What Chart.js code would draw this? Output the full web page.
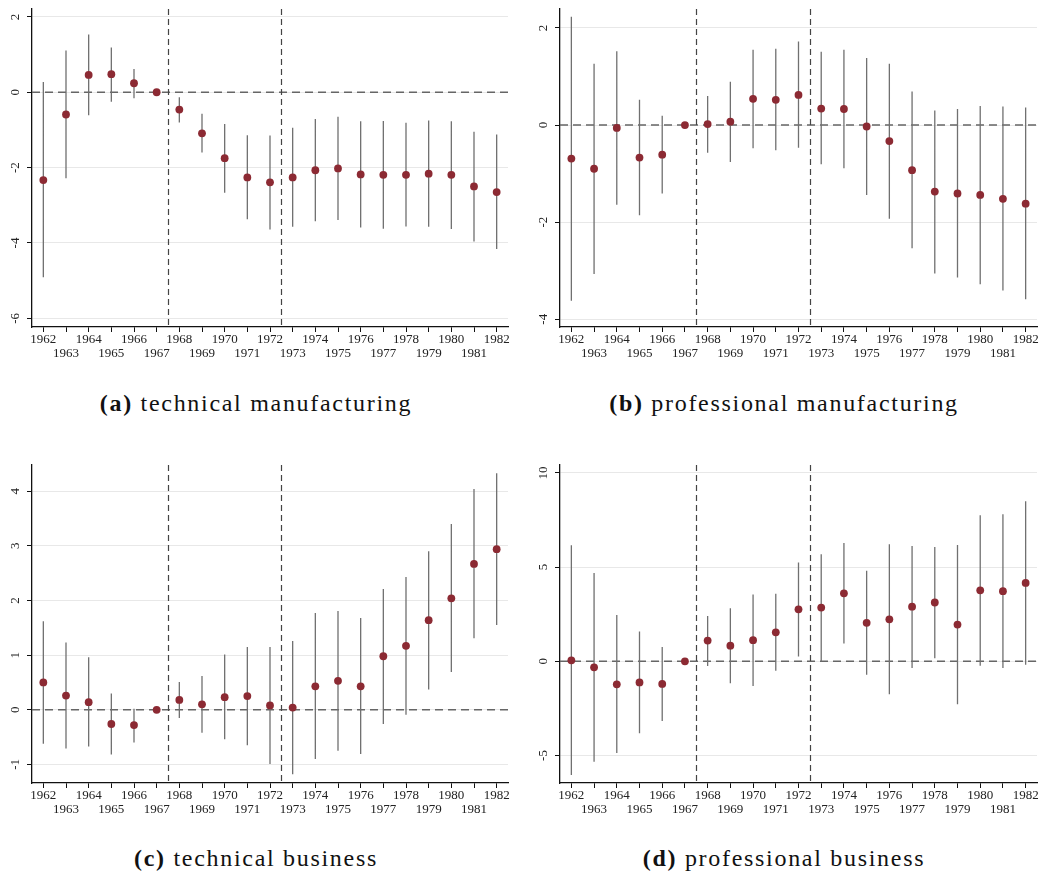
<!DOCTYPE html>
<html>
<head>
<meta charset="utf-8">
<script src="https://cdn.jsdelivr.net/npm/chart.js@4.4.1/dist/chart.umd.min.js"></script>
<style>
  body { margin: 0; background: #fff; width: 1041px; height: 876px; position: relative; overflow: hidden; }
  .panel { position: absolute; }
  .caption {
    position: absolute; width: 520px; text-align: center;
    font-family: "Liberation Serif", serif; font-size: 24px; color: #111; letter-spacing: 1.7px;
  }
  .caption b { font-weight: bold; }
</style>
</head>
<body>
<div class="panel" style="left:0;top:0"><canvas id="techMfg" width="520" height="365"></canvas></div>
<div class="panel" style="left:520px;top:0"><canvas id="profMfg" width="521" height="365"></canvas></div>
<div class="panel" style="left:0;top:450px"><canvas id="techBus" width="520" height="370"></canvas></div>
<div class="panel" style="left:520px;top:450px"><canvas id="profBus" width="521" height="370"></canvas></div>

<div class="caption" style="left:-4px;top:390px"><b>(a)</b> technical manufacturing</div>
<div class="caption" style="left:524px;top:390px"><b>(b)</b> professional manufacturing</div>
<div class="caption" style="left:-4px;top:845px"><b>(c)</b> technical business</div>
<div class="caption" style="left:524px;top:845px"><b>(d)</b> professional business</div>

<script>
const years = [1962, 1963, 1964, 1965, 1966, 1967, 1968, 1969, 1970, 1971, 1972,
               1973, 1974, 1975, 1976, 1977, 1978, 1979, 1980, 1981, 1982]
const policyLines = [1967.5, 1972.5]

// (a) technical manufacturing
const techMfgCoef = [-2.33, -0.59, 0.46, 0.48, 0.24, 0, -0.46, -1.09, -1.75, -2.26, -2.39,
                     -2.26, -2.07, -2.02, -2.18, -2.19, -2.19, -2.16, -2.19, -2.50, -2.65]
const techMfgHi = [0.27, 1.11, 1.53, 1.19, 0.62, null, -0.13, -0.57, -0.84, -1.14, -1.15,
                   -0.94, -0.71, -0.65, -0.77, -0.76, -0.81, -0.75, -0.77, -1.05, -1.12]
const techMfgLo = [-4.91, -2.28, -0.61, -0.25, -0.16, null, -0.80, -1.60, -2.67, -3.37, -3.64,
                   -3.57, -3.42, -3.39, -3.59, -3.62, -3.56, -3.57, -3.63, -3.96, -4.16]
const techMfgTicks = [-6, -4, -2, 0, 2]

// (b) professional manufacturing
const profMfgCoef = [-0.69, -0.90, -0.06, -0.67, -0.61, 0, 0.02, 0.07, 0.54, 0.52, 0.62,
                     0.34, 0.33, -0.03, -0.33, -0.93, -1.37, -1.41, -1.44, -1.52, -1.62]
const profMfgHi = [2.23, 1.26, 1.52, 0.52, 0.19, null, 0.60, 0.89, 1.55, 1.57, 1.72,
                   1.51, 1.55, 1.38, 1.26, 0.69, 0.30, 0.33, 0.39, 0.38, 0.36]
const profMfgLo = [-3.62, -3.07, -1.64, -1.86, -1.41, null, -0.57, -0.76, -0.48, -0.52, -0.47,
                   -0.81, -0.89, -1.44, -1.93, -2.54, -3.06, -3.14, -3.28, -3.41, -3.59]
const profMfgTicks = [-4, -2, 0, 2]

// (c) technical business
const techBusCoef = [0.50, 0.26, 0.14, -0.26, -0.28, 0, 0.18, 0.10, 0.23, 0.25, 0.08,
                     0.04, 0.43, 0.53, 0.43, 0.98, 1.17, 1.64, 2.04, 2.67, 2.94]
const techBusHi = [1.62, 1.23, 0.96, 0.30, 0.02, null, 0.51, 0.62, 1.01, 1.15, 1.15,
                   1.26, 1.77, 1.81, 1.68, 2.21, 2.43, 2.90, 3.40, 4.04, 4.33]
const techBusLo = [-0.62, -0.71, -0.67, -0.82, -0.60, null, -0.15, -0.42, -0.54, -0.65, -0.99,
                   -1.18, -0.90, -0.75, -0.81, -0.26, -0.09, 0.37, 0.69, 1.31, 1.55]
const techBusTicks = [-1, 0, 1, 2, 3, 4]

// (d) professional business
const profBusCoef = [0.05, -0.32, -1.22, -1.12, -1.20, 0, 1.10, 0.83, 1.12, 1.54, 2.76,
                     2.85, 3.61, 2.04, 2.23, 2.90, 3.12, 1.95, 3.77, 3.72, 4.16]
const profBusHi = [6.16, 4.69, 2.46, 1.58, 0.76, null, 2.41, 2.81, 3.54, 3.58, 5.24,
                   5.68, 6.28, 4.80, 6.21, 6.12, 6.07, 6.18, 7.75, 7.81, 8.50]
const profBusLo = [-6.04, -5.33, -4.87, -3.82, -3.17, null, -0.25, -1.17, -1.31, -0.50, 0.25,
                   0.00, 0.94, -0.71, -1.75, -0.35, 0.16, -2.28, -0.23, -0.35, -0.18]
const profBusTicks = [-5, 0, 5, 10]

const serif = '"Liberation Serif", "Times New Roman", serif'

// vertical y labels (read bottom to top) + dashed reference lines
const stataBits = {
    id: 'stataBits',
    beforeDatasetsDraw(chart) {
        const { ctx, chartArea, scales: { x, y } } = chart
        ctx.save()
        ctx.beginPath()
        ctx.rect(chartArea.left, chartArea.top, chartArea.right - chartArea.left, chartArea.bottom - chartArea.top)
        ctx.clip()
        // zero line
        const y0 = y.getPixelForValue(0)
        ctx.strokeStyle = '#666'
        ctx.lineWidth = 1.4
        ctx.setLineDash([8, 5])
        ctx.beginPath()
        ctx.moveTo(chartArea.left, y0)
        ctx.lineTo(chartArea.right, y0)
        ctx.stroke()
        // policy lines
        ctx.strokeStyle = '#444'
        ctx.lineWidth = 1.2
        ctx.setLineDash([6, 4])
        policyLines.forEach(v => {
            const px = Math.round(x.getPixelForValue(v)) + 0.5
            ctx.beginPath()
            ctx.moveTo(px, chartArea.top)
            ctx.lineTo(px, chartArea.bottom)
            ctx.stroke()
        })
        ctx.restore()
    },
    afterDraw(chart) {
        const { ctx, chartArea, scales: { y } } = chart
        ctx.save()
        ctx.font = '13px ' + serif
        ctx.fillStyle = '#222'
        ctx.textAlign = 'center'
        ctx.textBaseline = 'middle'
        y.ticks.forEach(t => {
            ctx.save()
            ctx.translate(chartArea.left - 16, y.getPixelForValue(t.value))
            ctx.rotate(-Math.PI / 2)
            ctx.fillText(String(t.value), 0, 0)
            ctx.restore()
        })
        ctx.restore()
    }
}

function makePanel(id, coef, lo, hi, ticks, yMin, yMax, pad, xHeight) {
    const bars = []
    years.forEach((yr, i) => {
        bars.push({ x: yr, y: lo[i] }, { x: yr, y: hi[i] }, { x: yr, y: null })
    })
    new Chart(document.getElementById(id), {
        type: 'line',
        data: {
            datasets: [{
                data: years.map((yr, i) => ({ x: yr, y: coef[i] })),
                showLine: false,
                pointRadius: 3.9,
                pointBackgroundColor: '#8c2a33',
                pointBorderWidth: 0,
                pointHoverRadius: 3.9
            }, {
                data: bars,
                borderColor: '#707070',
                borderWidth: 1.3,
                pointRadius: 0,
                spanGaps: false
            }]
        },
        options: {
            responsive: false,
            animation: false,
            layout: { padding: pad },
            plugins: { legend: { display: false }, tooltip: { enabled: false } },
            scales: {
                x: {
                    type: 'linear',
                    min: 1961.5,
                    max: 1982.5,
                    afterBuildTicks: s => { s.ticks = years.map(v => ({ value: v })) },
                    afterFit: s => { s.height = xHeight },
                    grid: { drawOnChartArea: false, drawTicks: true, tickLength: 5, tickColor: '#111', tickWidth: 1 },
                    border: { color: '#111', width: 1.3 },
                    ticks: {
                        padding: 0,
                        color: '#222',
                        font: { family: serif, size: 13, lineHeight: 1.13 },
                        maxRotation: 0,
                        autoSkip: false,
                        callback: v => v % 2 === 0 ? [String(v), ''] : ['', String(v)]
                    }
                },
                y: {
                    min: yMin,
                    max: yMax,
                    afterBuildTicks: s => { s.ticks = ticks.map(v => ({ value: v })) },
                    afterFit: s => { s.width = 0 },
                    grid: { color: '#e8e8e8', lineWidth: 1, drawTicks: true, tickLength: 5, tickColor: '#111', tickWidth: 1 },
                    border: { color: '#111', width: 1.3 },
                    ticks: { display: false }
                }
            }
        },
        plugins: [stataBits]
    })
}

makePanel('techMfg', techMfgCoef, techMfgLo, techMfgHi, techMfgTicks, -6.23, 2.21,
    { left: 32, top: 9, right: 12, bottom: 0 }, 38)
makePanel('profMfg', profMfgCoef, profMfgLo, profMfgHi, profMfgTicks, -4.16, 2.39,
    { left: 40, top: 9, right: 4, bottom: 0 }, 38)
makePanel('techBus', techBusCoef, techBusLo, techBusHi, techBusTicks, -1.34, 4.48,
    { left: 32, top: 15, right: 12, bottom: 0 }, 37)
makePanel('profBus', profBusCoef, profBusLo, profBusHi, profBusTicks, -6.46, 10.42,
    { left: 40, top: 15, right: 4, bottom: 0 }, 37)
</script>
</body>
</html>
